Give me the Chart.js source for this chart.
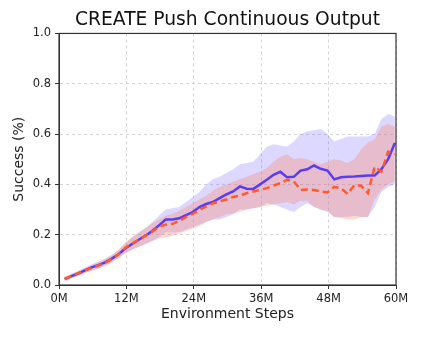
<!DOCTYPE html>
<html>
<head>
<meta charset="utf-8">
<script src="https://cdn.jsdelivr.net/npm/chart.js@4"></script>
<style>
  html, body { margin: 0; padding: 0; background: #fff; }
  #wrap { width: 422px; height: 338px; }
</style>
</head>
<body>
<div id="wrap"><canvas id="pushChart"></canvas></div>
<script>
// environment steps (millions)
const steps = [1, 2.2, 3.4, 4.6, 5.8, 7, 8.2, 9.4, 10.6, 11.8,
  13, 14.2, 15.4, 16.6, 17.8, 19, 20.2, 21.4, 22.6, 23.8,
  25, 26.2, 27.4, 28.6, 29.8, 31, 32.2, 33.4, 34.6, 35.8,
  37, 38.2, 39.4, 40.6, 41.8, 43, 44.2, 45.4, 46.6, 47.8,
  49, 50.2, 51.4, 52.6, 53.8, 55, 56.2, 57.4, 58.6, 59.8];

// blue (solid) run
const blueMean = [0.023, 0.035, 0.045, 0.058, 0.07, 0.079, 0.09, 0.105, 0.122, 0.145,
  0.163, 0.18, 0.196, 0.215, 0.237, 0.26, 0.26, 0.265, 0.278, 0.29,
  0.31, 0.322, 0.33, 0.345, 0.36, 0.372, 0.392, 0.383, 0.382, 0.40,
  0.418, 0.438, 0.45, 0.428, 0.43, 0.455, 0.46, 0.475, 0.462, 0.455,
  0.42, 0.428, 0.43, 0.431, 0.433, 0.435, 0.435, 0.46, 0.50, 0.565];
const blueLow = [0.015, 0.027, 0.036, 0.048, 0.058, 0.067, 0.078, 0.092, 0.108, 0.128,
  0.14, 0.152, 0.163, 0.175, 0.19, 0.21, 0.208, 0.21, 0.22, 0.23,
  0.24, 0.25, 0.26, 0.26, 0.27, 0.28, 0.30, 0.30, 0.305, 0.31,
  0.325, 0.32, 0.31, 0.30, 0.29, 0.31, 0.325, 0.31, 0.30, 0.29,
  0.27, 0.27, 0.27, 0.275, 0.27, 0.27, 0.31, 0.37, 0.39, 0.40];
const blueHigh = [0.03, 0.044, 0.055, 0.068, 0.082, 0.092, 0.104, 0.12, 0.138, 0.165,
  0.19, 0.21, 0.228, 0.25, 0.275, 0.30, 0.305, 0.31, 0.33, 0.35,
  0.37, 0.40, 0.42, 0.43, 0.445, 0.46, 0.48, 0.485, 0.49, 0.52,
  0.55, 0.56, 0.555, 0.55, 0.57, 0.60, 0.61, 0.615, 0.62, 0.60,
  0.57, 0.58, 0.59, 0.59, 0.59, 0.59, 0.60, 0.66, 0.68, 0.67];

// orange (dashed) run
const redMean = [0.025, 0.035, 0.047, 0.058, 0.067, 0.077, 0.088, 0.103, 0.122, 0.148,
  0.165, 0.18, 0.195, 0.212, 0.232, 0.24, 0.243, 0.255, 0.27, 0.283,
  0.298, 0.312, 0.325, 0.332, 0.34, 0.35, 0.355, 0.365, 0.372, 0.378,
  0.385, 0.395, 0.405, 0.418, 0.412, 0.378, 0.38, 0.378, 0.372, 0.368,
  0.39, 0.385, 0.362, 0.398, 0.395, 0.365, 0.47, 0.45, 0.53, 0.52];
const redLow = [0.017, 0.027, 0.038, 0.048, 0.056, 0.065, 0.075, 0.088, 0.105, 0.125,
  0.14, 0.152, 0.163, 0.175, 0.185, 0.19, 0.195, 0.205, 0.215, 0.225,
  0.235, 0.25, 0.26, 0.27, 0.28, 0.285, 0.29, 0.30, 0.305, 0.31,
  0.315, 0.32, 0.325, 0.33, 0.32, 0.335, 0.335, 0.31, 0.30, 0.295,
  0.27, 0.265, 0.26, 0.26, 0.27, 0.27, 0.34, 0.38, 0.40, 0.41];
const redHigh = [0.033, 0.044, 0.057, 0.069, 0.08, 0.09, 0.102, 0.118, 0.14, 0.17,
  0.19, 0.207, 0.225, 0.245, 0.26, 0.275, 0.283, 0.295, 0.31, 0.325,
  0.34, 0.355, 0.375, 0.39, 0.40, 0.41, 0.42, 0.43, 0.44, 0.45,
  0.465, 0.49, 0.51, 0.52, 0.50, 0.505, 0.50, 0.49, 0.48, 0.49,
  0.50, 0.495, 0.485, 0.50, 0.54, 0.565, 0.58, 0.63, 0.64, 0.63];

const xTicks = [0, 12, 24, 36, 48, 60];
const yTicks = [0, 0.2, 0.4, 0.6, 0.8, 1.0];

function pts(arr) {
  return steps.map((s, i) => ({ x: s, y: arr[i] }));
}

const FONT = "'DejaVu Sans', sans-serif";

// matplotlib-style box around the plot
const frame = {
  id: "frame",
  afterDatasetsDraw(chart) {
    const a = chart.chartArea, ctx = chart.ctx;
    ctx.save();
    ctx.strokeStyle = "#333";
    ctx.lineWidth = 1.2;
    ctx.strokeRect(a.left, a.top, a.right - a.left, a.bottom - a.top);
    ctx.restore();
  }
};

new Chart(document.getElementById("pushChart"), {
  type: "line",
  data: {
    datasets: [
      {
        data: pts(redMean),
        borderColor: "#ff5a2e",
        borderWidth: 2.5,
        borderDash: [7, 4],
        pointRadius: 0,
        fill: false
      },
      {
        data: pts(blueMean),
        borderColor: "#5a3cf5",
        borderWidth: 2.5,
        pointRadius: 0,
        fill: false
      },
      {
        data: pts(redHigh),
        borderWidth: 0,
        pointRadius: 0,
        backgroundColor: "rgba(255,120,80,0.28)",
        fill: "+1"
      },
      {
        data: pts(redLow),
        borderWidth: 0,
        pointRadius: 0,
        fill: false
      },
      {
        data: pts(blueHigh),
        borderWidth: 0,
        pointRadius: 0,
        backgroundColor: "rgba(125,105,255,0.26)",
        fill: "+1"
      },
      {
        data: pts(blueLow),
        borderWidth: 0,
        pointRadius: 0,
        fill: false
      }
    ]
  },
  options: {
    responsive: true,
    maintainAspectRatio: false,
    animation: false,
    layout: { padding: { left: 0, right: 26, top: 0, bottom: 0 } },
    plugins: {
      legend: { display: false },
      tooltip: { enabled: false },
      title: {
        display: true,
        text: "CREATE Push Continuous Output",
        fullSize: false,
        color: "#111",
        font: { family: FONT, size: 18.7, weight: "normal" },
        padding: { top: 9, bottom: 2 }
      }
    },
    scales: {
      x: {
        type: "linear",
        min: 0,
        max: 60,
        afterBuildTicks(scale) {
          scale.ticks = xTicks.map(v => ({ value: v }));
        },
        afterFit(scale) { scale.height = 53; },
        ticks: {
          color: "#222",
          padding: 3,
          maxRotation: 0,
          font: { family: FONT, size: 11.5 },
          callback: v => v + "M"
        },
        grid: {
          color: "#d4d4d4",
          tickColor: "#333",
          tickLength: 4,
          tickWidth: 1
        },
        border: { color: "#333", dash: [3, 3] },
        title: {
          display: true,
          text: "Environment Steps",
          color: "#222",
          font: { family: FONT, size: 14 },
          padding: { top: 0, bottom: 15 }
        }
      },
      y: {
        min: 0,
        max: 1,
        afterBuildTicks(scale) {
          scale.ticks = yTicks.map(v => ({ value: v }));
        },
        afterFit(scale) { scale.width = 59; },
        ticks: {
          color: "#222",
          padding: 4,
          font: { family: FONT, size: 11.5 },
          callback: v => v.toFixed(1)
        },
        grid: {
          color: "#d4d4d4",
          tickColor: "#333",
          tickLength: 4,
          tickWidth: 1
        },
        border: { color: "#333", dash: [3, 3] },
        title: {
          display: true,
          text: "Success (%)",
          color: "#222",
          font: { family: FONT, size: 14 },
          padding: { top: 11, bottom: 0 }
        }
      }
    }
  },
  plugins: [frame]
});
</script>
</body>
</html>
